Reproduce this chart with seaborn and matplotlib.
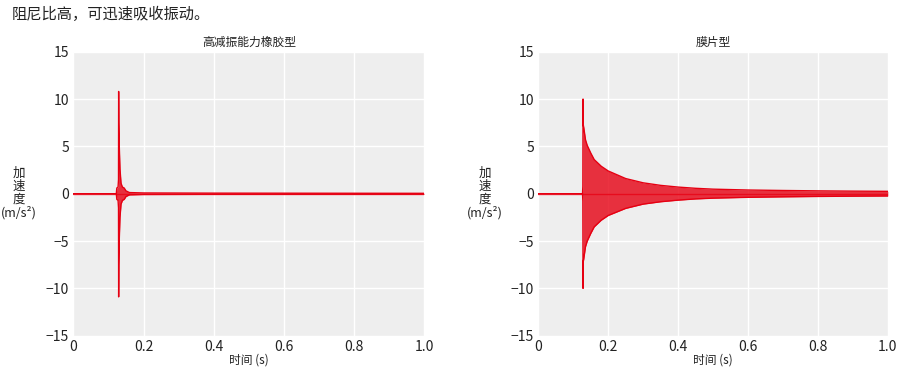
import numpy as np
import pandas as pd
import matplotlib
matplotlib.use("Agg")
import matplotlib.pyplot as plt
import seaborn as sns

# ---- data (envelope of the acceleration signal) ----
main_title = "阻尼比高，可迅速吸收振动。"
panel_titles = ["高减振能力橡胶型", "膜片型"]
x_label = "时间 (s)"
y_label = "加\n速\n度\n(m/s²)"
x_ticks = [0, 0.2, 0.4, 0.6, 0.8, 1.0]
x_tick_labels = ["0", "0.2", "0.4", "0.6", "0.8", "1.0"]
y_ticks = [-15, -10, -5, 0, 5, 10, 15]
y_tick_labels = ["−15", "−10", "−5", "0", "5", "10", "15"]

# rubber type: time (s), upper and lower envelope (m/s²)
rubber_t = [0.0, 0.1225, 0.124, 0.1275, 0.1288, 0.1292, 0.1296, 0.131, 0.133, 0.136,
            0.140, 0.145, 0.150, 0.160, 0.200, 0.400, 0.700, 1.0]
rubber_up = [0.0, 0.0, 0.6, 0.7, 1.5, 10.8, 7.5, 5.0, 2.6, 1.1,
             0.7, 0.6, 0.3, 0.12, 0.08, 0.06, 0.05, 0.04]
rubber_lo = [0.0, 0.0, -0.6, -0.7, -1.5, -10.9, -7.5, -4.8, -2.5, -1.1,
             -0.7, -0.6, -0.3, -0.12, -0.08, -0.06, -0.05, -0.04]

# diaphragm type
diaph_t = [0.0, 0.1265, 0.1275, 0.1280, 0.1285, 0.130, 0.135, 0.140, 0.150, 0.160,
           0.180, 0.200, 0.250, 0.300, 0.350, 0.400, 0.450, 0.500, 0.600, 0.700,
           0.800, 0.900, 1.0]
diaph_up = [0.0, 0.0, 0.8, 10.0, 7.3, 7.0, 5.7, 5.1, 4.3, 3.6,
            2.9, 2.4, 1.6, 1.15, 0.88, 0.7, 0.57, 0.48, 0.39, 0.34,
            0.30, 0.27, 0.25]
diaph_lo = [0.0, 0.0, -0.8, -10.0, -7.2, -6.9, -5.6, -5.0, -4.2, -3.5,
            -2.8, -2.3, -1.55, -1.1, -0.85, -0.68, -0.55, -0.47, -0.38, -0.33,
            -0.29, -0.26, -0.24]

RED = "#e60012"

sns.set_theme(style="darkgrid", rc={
    "axes.facecolor": "#eeeeee",
    "grid.color": "white",
    "grid.linewidth": 1.0,
})
plt.rcParams["font.family"] = ["Noto Sans CJK SC", "DejaVu Sans"]
plt.rcParams["axes.unicode_minus"] = True

fig = plt.figure(figsize=(9, 3.78), dpi=100)
ax_pos = [
    [73.3 / 900, 1 - 335.7 / 378, 351 / 900, 284 / 378],
    [538.3 / 900, 1 - 335.7 / 378, 349.5 / 900, 284 / 378],
]
series = [(rubber_t, rubber_up, rubber_lo), (diaph_t, diaph_up, diaph_lo)]
ylab_x = [19 / 900, 485 / 900]

for i in range(2):
    ax = fig.add_axes(ax_pos[i])
    t, up, lo = series[i]
    df = pd.DataFrame({"t": t + t, "a": up + lo,
                       "side": ["up"] * len(t) + ["lo"] * len(t)})
    ax.fill_between(t, lo, up, color=RED, alpha=0.8, linewidth=0)
    sns.lineplot(data=df, x="t", y="a", units="side", estimator=None,
                 color=RED, linewidth=1.0, ax=ax)
    ax.plot([0, 1], [0, 0], color=RED, linewidth=1.0, alpha=0.75)
    ax.set_xlim(0, 1)
    ax.set_ylim(-15, 15)
    ax.set_xticks(x_ticks)
    ax.set_xticklabels(x_tick_labels)
    ax.set_yticks(y_ticks)
    ax.set_yticklabels(y_tick_labels)
    ax.tick_params(axis="both", labelsize=10, colors="#222222", length=0, pad=3)
    ax.set_xlabel(x_label, fontsize=8.5, color="#222222", labelpad=0)
    ax.set_ylabel("")
    ax.set_title(panel_titles[i], fontsize=8.5, color="#222222", pad=4)
    for s in ax.spines.values():
        s.set_visible(False)
    fig.text(ylab_x[i], 1 - 193 / 378, y_label, ha="center", va="center",
             fontsize=9, color="#222222", linespacing=1.0)

fig.text(12 / 900, 1 - 14 / 378, main_title, ha="left", va="center",
         fontsize=11, color="#222222")

fig.savefig("out.png", dpi=100)
